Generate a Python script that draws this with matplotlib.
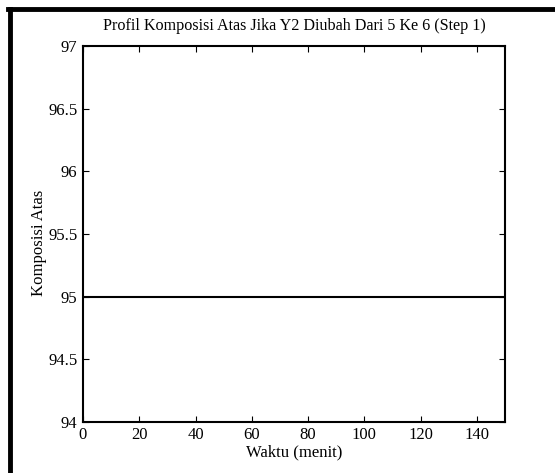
import matplotlib
matplotlib.use('Agg')
import matplotlib.pyplot as plt
from matplotlib.lines import Line2D

# data
waktu = [0, 150]
komposisi = [95, 95]
xticks = [0, 20, 40, 60, 80, 100, 120, 140]
yticks = [94, 94.5, 95, 95.5, 96, 96.5, 97]
ytick_labels = ['94', '94.5', '95', '95.5', '96', '96.5', '97']

plt.rcParams['font.family'] = ['Liberation Serif', 'DejaVu Serif']
plt.rcParams['font.size'] = 12

fig = plt.figure(figsize=(5.55, 4.73), dpi=100)
ax = fig.add_axes([0.1495, 0.108, 0.7605, 0.795])

ax.plot(waktu, komposisi, color='black', linewidth=1.5)
ax.set_xlim(0, 150)
ax.set_ylim(94, 97)
ax.set_xticks(xticks)
ax.set_yticks(yticks)
ax.set_yticklabels(ytick_labels)
ax.tick_params(direction='in', top=True, right=True, length=4, width=0.8, pad=4, labelsize=12)
for s in ax.spines.values():
    s.set_linewidth(1.5)

ax.set_title('Profil Komposisi Atas Jika Y2 Diubah Dari 5 Ke 6 (Step 1)', fontsize=11.6, pad=11.5)
ax.set_xlabel('Waktu (menit)', fontsize=12, labelpad=1)
ax.set_ylabel('Komposisi Atas', fontsize=12)
ax.yaxis.set_label_coords(-0.0845, 0.475)

# frame lines around the figure (left and top)
fig.add_artist(Line2D([0.0180, 0.0180], [0.0, 0.981], transform=fig.transFigure, color='black', linewidth=3.5))
fig.add_artist(Line2D([0.0150, 1.0], [0.981, 0.981], transform=fig.transFigure, color='black', linewidth=3.5))

fig.savefig('out.png', dpi=100)
